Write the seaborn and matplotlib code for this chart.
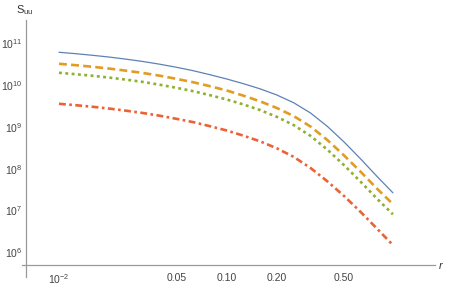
import matplotlib
matplotlib.use('Agg')
import matplotlib.pyplot as plt
import matplotlib.ticker as mticker
import pandas as pd
import seaborn as sns

r = [0.01, 0.01259, 0.01585, 0.01995, 0.02512, 0.03162, 0.03981, 0.05012, 0.0631, 0.07943,
     0.1, 0.1259, 0.1585, 0.1995, 0.2512, 0.3162, 0.3981, 0.5012, 0.631, 0.7943, 0.98]
s_blue = [6.09e10, 5.64e10, 5.16e10, 4.68e10, 4.17e10, 3.67e10, 3.16e10, 2.67e10, 2.21e10, 1.77e10,
          1.40e10, 1.08e10, 8.11e9, 5.77e9, 3.77e9, 2.15e9, 1.03e9, 4.35e8, 1.69e8, 6.30e7, 2.65e7]
s_orange = [3.23e10, 2.99e10, 2.74e10, 2.48e10, 2.21e10, 1.95e10, 1.68e10, 1.41e10, 1.17e10, 9.41e9,
            7.43e9, 5.58e9, 4.07e9, 2.82e9, 1.81e9, 1.02e9, 4.86e8, 2.07e8, 8.34e7, 3.22e7, 1.42e7]
s_green = [1.97e10, 1.82e10, 1.67e10, 1.51e10, 1.35e10, 1.19e10, 1.02e10, 8.62e9, 7.15e9, 5.73e9,
           4.52e9, 3.44e9, 2.52e9, 1.73e9, 1.10e9, 6.09e8, 2.86e8, 1.21e8, 4.81e7, 1.85e7, 8.11e6]
s_red = [3.57e9, 3.30e9, 3.03e9, 2.74e9, 2.44e9, 2.15e9, 1.85e9, 1.56e9, 1.30e9, 1.04e9,
         8.20e8, 6.16e8, 4.50e8, 3.06e8, 1.91e8, 1.04e8, 4.99e7, 2.22e7, 9.11e6, 3.55e6, 1.49e6]

x_major = [0.01, 0.05, 0.1, 0.2, 0.5, 1.0]
x_major_labels = ['$10^{-2}$', '0.05', '0.10', '0.20', '0.50', '']
x_minor = [0.007, 0.008, 0.009, 0.02, 0.03, 0.04, 0.06, 0.07, 0.08, 0.09, 0.3, 0.4]
y_major = [1e6, 1e7, 1e8, 1e9, 1e10, 1e11]

sns.set_style('white')
plt.rcParams['font.family'] = ['Liberation Sans', 'DejaVu Sans']
plt.rcParams['mathtext.default'] = 'regular'

fig = plt.figure(figsize=(4.5, 2.85), dpi=100)
ax = fig.add_axes([22 / 450, 8 / 285, 413 / 450, 257 / 285])

series = [
    (s_blue, '#5E81B5', 0.9, '-'),
    (s_orange, '#E19C24', 1.9, (0, (3.0, 1.6))),
    (s_green, '#8FB032', 1.9, (0, (1.1, 1.3))),
    (s_red, '#EB6235', 1.9, (0, (2.6, 1.3, 1.0, 1.3))),
]
for vals, col, lw, ls in series:
    df = pd.DataFrame({'r': r, 'S': vals})
    sns.lineplot(data=df, x='r', y='S', ax=ax, color=col, linewidth=lw, linestyle=ls)

ax.set_xscale('log')
ax.set_yscale('log')
ax.set_xlim(10 ** -2.2206, 10 ** 0.2421)
ax.set_ylim(10 ** 5.409, 10 ** 11.557)
ax.set_xlabel('')
ax.set_ylabel('')

for side in ['top', 'right']:
    ax.spines[side].set_visible(False)
ax.spines['left'].set_position(('data', 0.00635))
ax.spines['bottom'].set_position(('data', 5.0e5))
for side in ['left', 'bottom']:
    ax.spines[side].set_color('#9a9a9a')
    ax.spines[side].set_linewidth(0.9)

ax.xaxis.set_major_locator(mticker.FixedLocator(x_major))
ax.xaxis.set_major_formatter(mticker.FixedFormatter(x_major_labels))
ax.xaxis.set_minor_locator(mticker.FixedLocator(x_minor))
ax.xaxis.set_minor_formatter(mticker.NullFormatter())

ax.yaxis.set_major_locator(mticker.FixedLocator(y_major))
ax.yaxis.set_major_formatter(mticker.LogFormatterMathtext())
ax.yaxis.set_minor_locator(mticker.LogLocator(base=10, subs=range(2, 10), numticks=20))
ax.yaxis.set_minor_formatter(mticker.NullFormatter())

ax.tick_params(which='both', direction='in', color='#9a9a9a', width=0.7,
               labelsize=7.5, labelcolor='#444444')
ax.tick_params(which='major', length=4)
ax.tick_params(which='minor', length=2)
ax.tick_params(axis='x', pad=5.5)
ax.tick_params(axis='y', pad=2.5)
ax.grid(False)

fig.text(25 / 450, 1 - 10 / 285, r'$S_{uu}$', ha='center', va='center',
         fontsize=8, color='#333333')
fig.text(441 / 450, 1 - 266 / 285, 'r', ha='center', va='center',
         fontsize=8, style='italic', color='#333333')

fig.savefig('out.png', dpi=100)
